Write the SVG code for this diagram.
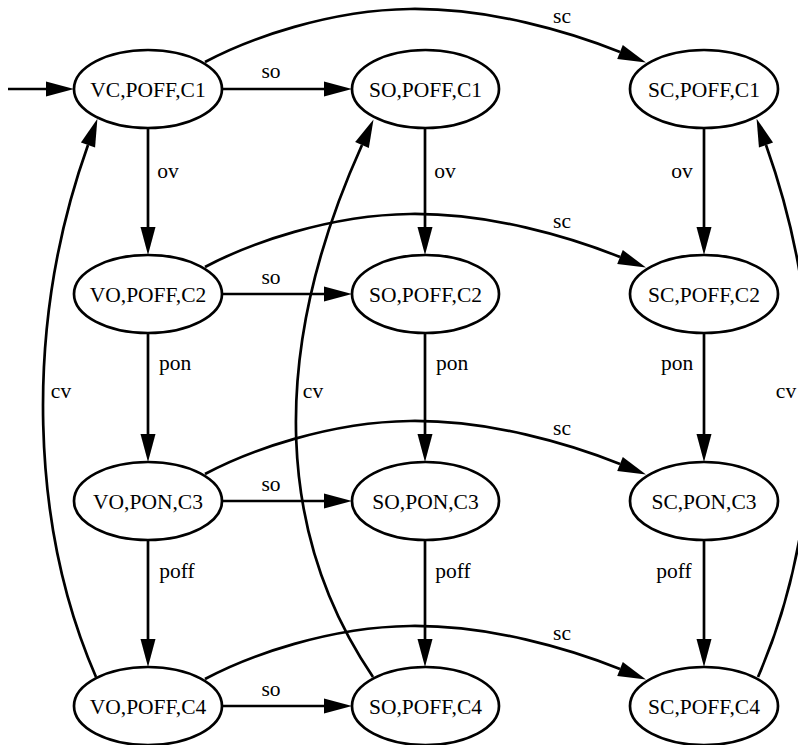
<svg xmlns="http://www.w3.org/2000/svg" width="798" height="745" viewBox="0 0 798 745">
<style>
.node ellipse{fill:#fff;stroke:#000;stroke-width:2.7}
.node text,.lbl{font-family:"Liberation Serif","DejaVu Serif",serif;font-size:21.5px;fill:#000;text-anchor:middle}
.edge{fill:none;stroke:#000;stroke-width:2.7;marker-end:url(#ah)}
</style>
<defs>
<marker id="ah" markerUnits="userSpaceOnUse" viewBox="0 0 28 16" refX="0" refY="8" markerWidth="28" markerHeight="16" orient="auto" overflow="visible">
<path d="M0,0.5 L28,8 L0,15.5 Z" fill="#000"/>
</marker>
</defs>
<rect width="798" height="745" fill="#fff"/>
<g id="connectors">
<path class="edge" d="M8,89 L46,89"/>
<path class="edge" d="M222,89 L324,89"/>
<path class="edge" d="M221,294 L324,294"/>
<path class="edge" d="M221,501 L324,501"/>
<path class="edge" d="M221,706 L324,706"/>
<path class="edge" d="M148,128 L148,227"/>
<path class="edge" d="M148,333 L148,434"/>
<path class="edge" d="M148,540 L148,639"/>
<path class="edge" d="M425,128 L425,227"/>
<path class="edge" d="M425,333 L425,434"/>
<path class="edge" d="M425,540 L425,639"/>
<path class="edge" d="M704,128 L704,227"/>
<path class="edge" d="M704,333 L704,434"/>
<path class="edge" d="M704,540 L704,639"/>
<path class="edge" d="M205,62 C250,38 330,10 410,9 C490,8 570,32 620,52"/>
<path class="edge" d="M205,267 C250,243 330,215 410,214 C490,213 570,237 620,257"/>
<path class="edge" d="M205,474 C250,450 330,422 410,421 C490,420 570,444 620,464"/>
<path class="edge" d="M205,679 C250,655 330,627 410,626 C490,625 570,649 620,669"/>
<path class="edge" d="M96,677 C32,530 22,330 88,145"/>
<path class="edge" d="M373,677 C280,540 265,360 362,145"/>
<path class="edge" d="M758,677 C822,530 832,330 766,145"/>
</g>
<g id="labels">
<text class="lbl" x="271" y="78">so</text>
<text class="lbl" x="271" y="284">so</text>
<text class="lbl" x="271" y="491">so</text>
<text class="lbl" x="271" y="696">so</text>
<text class="lbl" x="562" y="23">sc</text>
<text class="lbl" x="562" y="228">sc</text>
<text class="lbl" x="562" y="435">sc</text>
<text class="lbl" x="562" y="640">sc</text>
<text class="lbl" x="168" y="178">ov</text>
<text class="lbl" x="445" y="178">ov</text>
<text class="lbl" x="682" y="178">ov</text>
<text class="lbl" x="175" y="370">pon</text>
<text class="lbl" x="452" y="370">pon</text>
<text class="lbl" x="677" y="370">pon</text>
<text class="lbl" x="177" y="578">poff</text>
<text class="lbl" x="453" y="578">poff</text>
<text class="lbl" x="674" y="578">poff</text>
<text class="lbl" x="61" y="398">cv</text>
<text class="lbl" x="313" y="398">cv</text>
<text class="lbl" x="786" y="398">cv</text>
</g>
<g id="VC_POFF_C1" class="node"><ellipse cx="148" cy="89" rx="74" ry="39"/><text x="148" y="96.5">VC,POFF,C1</text></g>
<g id="SO_POFF_C1" class="node"><ellipse cx="425.5" cy="89" rx="73.5" ry="39"/><text x="425.5" y="96.5">SO,POFF,C1</text></g>
<g id="SC_POFF_C1" class="node"><ellipse cx="704" cy="89" rx="74" ry="39"/><text x="704" y="96.5">SC,POFF,C1</text></g>
<g id="VO_POFF_C2" class="node"><ellipse cx="148" cy="294" rx="74" ry="39"/><text x="148" y="301.5">VO,POFF,C2</text></g>
<g id="SO_POFF_C2" class="node"><ellipse cx="425.5" cy="294" rx="73.5" ry="39"/><text x="425.5" y="301.5">SO,POFF,C2</text></g>
<g id="SC_POFF_C2" class="node"><ellipse cx="704" cy="294" rx="74" ry="39"/><text x="704" y="301.5">SC,POFF,C2</text></g>
<g id="VO_PON_C3" class="node"><ellipse cx="148" cy="501" rx="74" ry="39"/><text x="148" y="508.5">VO,PON,C3</text></g>
<g id="SO_PON_C3" class="node"><ellipse cx="425.5" cy="501" rx="73.5" ry="39"/><text x="425.5" y="508.5">SO,PON,C3</text></g>
<g id="SC_PON_C3" class="node"><ellipse cx="704" cy="501" rx="74" ry="39"/><text x="704" y="508.5">SC,PON,C3</text></g>
<g id="VO_POFF_C4" class="node"><ellipse cx="148" cy="706" rx="74" ry="39"/><text x="148" y="713.5">VO,POFF,C4</text></g>
<g id="SO_POFF_C4" class="node"><ellipse cx="425.5" cy="706" rx="73.5" ry="39"/><text x="425.5" y="713.5">SO,POFF,C4</text></g>
<g id="SC_POFF_C4" class="node"><ellipse cx="704" cy="706" rx="74" ry="39"/><text x="704" y="713.5">SC,POFF,C4</text></g>
</svg>
